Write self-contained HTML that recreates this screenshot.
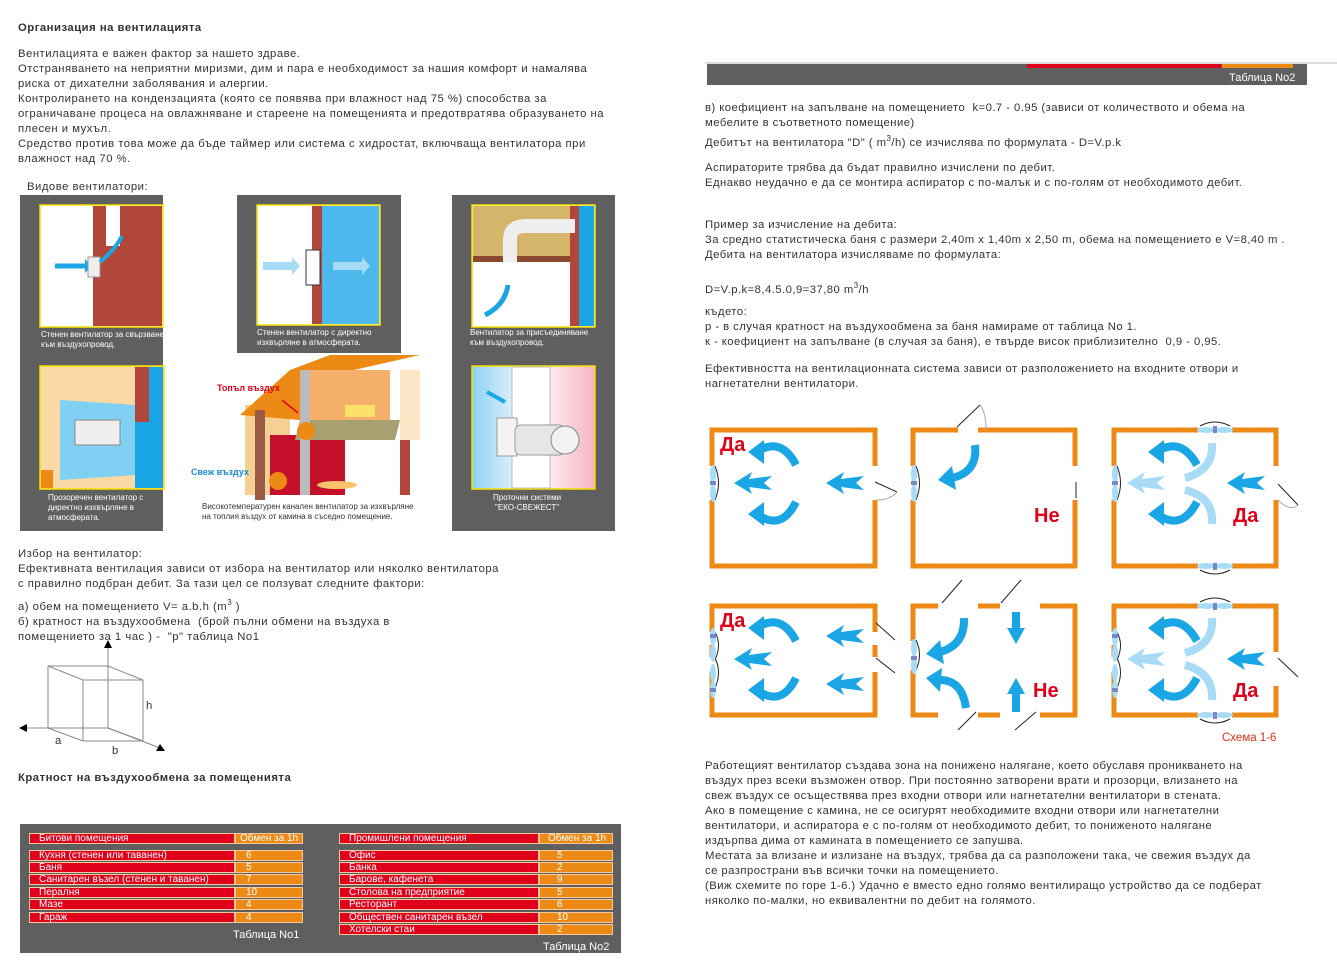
<!DOCTYPE html>
<html><head><meta charset="utf-8"><style>
body{margin:0;width:1337px;height:977px;background:#fff;position:relative;overflow:hidden;font-family:"Liberation Sans",Arial,sans-serif;color:#333;font-size:11.3px}
.t{position:absolute;white-space:nowrap;line-height:15px;letter-spacing:0.5px}
.b{font-weight:bold}
.c{position:absolute;color:#fff;font-size:8px;line-height:10px;white-space:nowrap}
.tb{position:absolute;font-size:9.5px;color:#fff;line-height:12px}
.r{position:absolute;height:11px;background:#e0001b;border:1px solid #f4c9a0;box-sizing:border-box;padding-left:9px;font-size:10px;line-height:10px;color:#fff}
.o{position:absolute;height:11px;background:#ec8a15;border:1px solid #f4c9a0;box-sizing:border-box;font-size:10px;line-height:10px;color:#fff;padding-left:10px}
.big{letter-spacing:0}
</style></head><body>
<svg width="1337" height="977" style="position:absolute;left:0;top:0">
<rect x="20" y="195" width="143" height="336" fill="#5f5f5f"/>
<rect x="237" y="195" width="164" height="158" fill="#5f5f5f"/>
<rect x="452" y="195" width="163" height="336" fill="#5f5f5f"/>
<rect x="40" y="205" width="123" height="122" fill="#fff" stroke="#f5e000" stroke-width="1.5"/>
<rect x="93" y="206" width="69" height="120" fill="#b0473a"/>
<rect x="106" y="206" width="14" height="40" fill="#fff"/>
<path d="M55 266 L85 266" stroke="#1aa6e4" stroke-width="5"/><polygon points="85,259 92,266 85,273" fill="#1aa6e4"/>
<rect x="88" y="257" width="12" height="20" fill="#eee" stroke="#999"/>
<path d="M100 262 Q115 250 122 236" stroke="#1aa6e4" stroke-width="4" fill="none"/>
<rect x="257" y="205" width="123" height="120" fill="#fff" stroke="#f5e000" stroke-width="1.5"/>
<rect x="322" y="206" width="57" height="118" fill="#4cb8ec"/>
<rect x="312" y="206" width="10" height="118" fill="#b0473a"/>
<rect x="306" y="250" width="14" height="35" fill="#fff" stroke="#333"/>
<polygon points="263,262 292,262 292,257 300,266 292,275 292,270 263,270" fill="#a8dcf6"/>
<polygon points="333,262 362,262 362,257 370,266 362,275 362,270 333,270" fill="#a8dcf6"/>
<rect x="472" y="205" width="123" height="122" fill="#fff" stroke="#f5e000" stroke-width="1.5"/>
<rect x="473" y="206" width="105" height="50" fill="#d4b56a"/>
<rect x="473" y="256" width="105" height="6" fill="#8a4a30"/>
<rect x="578" y="206" width="16" height="120" fill="#1aa6e4"/>
<rect x="570" y="206" width="9" height="120" fill="#b0473a"/>
<path d="M510 262 L510 240 Q510 226 525 226 L575 226" stroke="#eee" stroke-width="14" fill="none"/>
<path d="M485 315 Q505 305 508 285" stroke="#1aa6e4" stroke-width="5" fill="none"/>
<rect x="40" y="366" width="124" height="123" fill="#f9d9a4" stroke="#f5e000" stroke-width="1.5"/>
<rect x="135" y="367" width="28" height="121" fill="#1aa6e4"/>
<rect x="135" y="367" width="14" height="55" fill="#b0473a"/>
<polygon points="60,400 135,405 135,475 60,480" fill="#7fd0f2"/>
<rect x="75" y="420" width="45" height="25" fill="#eee" stroke="#888"/>
<rect x="41" y="470" width="12" height="18" fill="#ec8a15"/>
<defs><linearGradient id="g1" x1="0" x2="1"><stop offset="0" stop-color="#8fd0f3"/><stop offset="0.5" stop-color="#fff"/><stop offset="1" stop-color="#f5b3c3"/></linearGradient></defs>
<rect x="472" y="366" width="123" height="123" fill="url(#g1)" stroke="#f5e000" stroke-width="1.5"/>
<rect x="512" y="367" width="38" height="121" fill="#fff" stroke="#bbb"/>
<rect x="497" y="418" width="20" height="38" fill="#f3f3f3" stroke="#999"/>
<rect x="515" y="425" width="50" height="30" rx="6" fill="#e6e6e6" stroke="#999"/>
<circle cx="565" cy="440" r="14" fill="#f2f2f2" stroke="#888"/>
<path d="M487 392 L505 402" stroke="#1aa6e4" stroke-width="4"/>
<polygon points="245,405 290,405 290,495 245,495" fill="#f6cf92"/>
<polygon points="240,415 290,370 330,355 420,355 345,372 300,420" fill="#ec8a15"/>
<rect x="255" y="410" width="10" height="90" fill="#9a5a45"/>
<rect x="270" y="435" width="75" height="60" fill="#c4102a"/>
<rect x="310" y="370" width="80" height="50" fill="#f4b06a"/>
<polygon points="300,420 400,420 395,440 295,440" fill="#a8a070"/>
<rect x="345" y="405" width="30" height="12" fill="#fbe06a"/>
<rect x="300" y="370" width="10" height="125" fill="#bbb"/>
<rect x="400" y="370" width="20" height="70" fill="#fde6c6"/>
<rect x="400" y="440" width="10" height="55" fill="#b0473a"/>
<circle cx="306" cy="431" r="9" fill="#ec8a15"/>
<circle cx="278" cy="481" r="9" fill="#ec8a15"/>
<ellipse cx="337" cy="485" rx="20" ry="4" fill="#f9c36a"/>
<path d="M282 400 L298 413" stroke="#e0001b" stroke-width="1.5"/>
<g stroke="#888" stroke-width="1" fill="none">
<path d="M48 666 L108 666 L143 680 L83 680 Z M48 666 L48 728 L83 741 L143 741 L143 680 M83 680 L83 741 M48 728 L108 728 L143 741 M108 666 L108 728"/>
<path d="M108 728 L108 645 M108 728 L24 728 M108 728 L160 748"/>
</g>
<polygon points="108,640 104,648 112,648" fill="#000"/>
<polygon points="19,728 27,724 27,732" fill="#000"/>
<polygon points="165,751 156,751 160,744" fill="#000"/>
<rect x="20" y="824" width="601" height="129" fill="#5f5f5f"/>
<rect x="705" y="62" width="632" height="2" fill="#ddd"/>
<rect x="707" y="64" width="600" height="21" fill="#5f5f5f"/>
<rect x="1027" y="64" width="194" height="4" fill="#e0001b"/>
<rect x="1222" y="64" width="71" height="4" fill="#ec8a15"/>
<g stroke="#ec8a15" stroke-width="5" fill="none">
<path d="M712 466 L712 430 L875 430 L875 466 M875 500 L875 566 L712 566 L712 500"/>
<path d="M913 466 L913 430 L958 430 M978 430 L1075 430 L1075 466 M1075 500 L1075 566 L913 566 L913 500"/>
<path d="M1114 466 L1114 430 L1198 430 M1232 430 L1276 430 L1276 466 M1276 500 L1276 566 L1232 566 M1198 566 L1114 566 L1114 500"/>
<path d="M712 632 L712 606 L875 606 L875 632 M875 645 L875 657 M875 672 L875 715 L712 715 L712 672 M712 645 L712 657"/>
<path d="M913 641 L913 606 L938 606 M978 606 L1000 606 M1040 606 L1075 606 L1075 715 L1040 715 M1000 715 L978 715 M938 715 L913 715 L913 670"/>
<path d="M1114 632 L1114 606 L1198 606 M1232 606 L1276 606 L1276 652 M1276 686 L1276 715 L1232 715 M1198 715 L1114 715 L1114 672 M1114 645 L1114 657"/>
</g>
<g stroke="#222" stroke-width="1" fill="none">
<path d="M875 482 L897 492 M957 427 L980 405 M1076 482 L1076 498 M1278 484 L1298 505 M876 658 L895 673 M876 623 L895 640 M942 603 L962 580 M1001 603 L1021 580 M958 730 L976 712 M1015 730 L1036 712 M1278 658 L1298 677"/>
<path d="M715 466 Q722 483 715 500 M916 466 Q923 483 916 500 M1117 466 Q1124 483 1117 500 M715 632 Q722 645 715 660 M715 658 Q722 672 715 688 M916 640 Q923 655 916 670 M1117 632 Q1124 645 1117 660 M1117 658 Q1124 672 1117 688 M1200 426 Q1215 418 1230 426 M1200 570 Q1215 578 1230 570 M1200 602 Q1215 594 1230 602 M1200 719 Q1215 727 1230 719"/>
</g>
<g stroke="#aaa" stroke-width="1" fill="none">
<path d="M897 492 Q890 500 877 500 M980 405 Q986 412 986 430 M1298 505 Q1290 512 1278 500"/>
</g>
<g fill="#a8dcf6">
<ellipse cx="713" cy="474" rx="3" ry="9"/><ellipse cx="713" cy="493" rx="3" ry="9"/>
<ellipse cx="914" cy="474" rx="3" ry="9"/><ellipse cx="914" cy="493" rx="3" ry="9"/>
<ellipse cx="1115" cy="474" rx="3" ry="9"/><ellipse cx="1115" cy="493" rx="3" ry="9"/>
<ellipse cx="1206" cy="430" rx="9" ry="3"/><ellipse cx="1224" cy="430" rx="9" ry="3"/>
<ellipse cx="1206" cy="566" rx="9" ry="3"/><ellipse cx="1224" cy="566" rx="9" ry="3"/>
<ellipse cx="1206" cy="606" rx="9" ry="3"/><ellipse cx="1224" cy="606" rx="9" ry="3"/>
<ellipse cx="1206" cy="715" rx="9" ry="3"/><ellipse cx="1224" cy="715" rx="9" ry="3"/>
<ellipse cx="713" cy="637" rx="3" ry="9"/><ellipse cx="713" cy="653" rx="3" ry="9"/>
<ellipse cx="713" cy="673" rx="3" ry="9"/><ellipse cx="713" cy="689" rx="3" ry="9"/>
<ellipse cx="1115" cy="637" rx="3" ry="9"/><ellipse cx="1115" cy="653" rx="3" ry="9"/>
<ellipse cx="1115" cy="673" rx="3" ry="9"/><ellipse cx="1115" cy="689" rx="3" ry="9"/>
<ellipse cx="914" cy="648" rx="3" ry="9"/><ellipse cx="914" cy="665" rx="3" ry="9"/>
</g>
<g fill="#7a88c8">
<rect x="710" y="481" width="6" height="4"/><rect x="911" y="481" width="6" height="4"/><rect x="1112" y="481" width="6" height="4"/>
<rect x="1213" y="426" width="4" height="7"/><rect x="1213" y="563" width="4" height="7"/><rect x="1213" y="603" width="4" height="7"/><rect x="1213" y="712" width="4" height="7"/>
<rect x="710" y="634" width="6" height="4"/><rect x="710" y="688" width="6" height="4"/><rect x="1112" y="634" width="6" height="4"/><rect x="1112" y="688" width="6" height="4"/><rect x="911" y="656" width="6" height="4"/>
</g>
<defs>
<g id="la"><polygon points="0,0 18,-11 15,-4 38,-7 30,0 38,7 15,4 18,11"/></g>
</defs>
<g fill="#1aa6e4">
<use href="#la" x="734" y="483"/><use href="#la" x="826" y="483"/><use href="#la" x="1227" y="483"/>
<use href="#la" x="734" y="659"/><use href="#la" x="826" y="636"/><use href="#la" x="826" y="684"/><use href="#la" x="1227" y="659"/>
</g>
<g fill="#a8dcf6"><use href="#la" x="1127" y="483"/><use href="#la" x="1127" y="659"/></g>
<g stroke="#1aa6e4" stroke-width="8" fill="none">
<path d="M796 465 Q782 438 760 450"/><path d="M796 502 Q782 530 760 516"/>
<path d="M975 445 Q978 472 952 478"/>
<path d="M1197 465 Q1182 438 1160 450"/><path d="M1197 502 Q1182 530 1160 516"/>
<path d="M796 641 Q782 614 760 626"/><path d="M796 678 Q782 706 760 692"/>
<path d="M964 618 Q965 645 940 652"/><path d="M966 708 Q962 680 940 680"/>
<path d="M1016 612 L1016 632"/><path d="M1016 712 L1016 690"/>
<path d="M1197 641 Q1182 614 1160 626"/><path d="M1197 678 Q1182 706 1160 692"/>
</g>
<g fill="#1aa6e4">
<polygon points="748,452 764,440 764,464"/><polygon points="748,514 764,502 764,526"/>
<polygon points="938,480 952,466 956,490"/>
<polygon points="1148,452 1164,440 1164,464"/><polygon points="1148,514 1164,502 1164,526"/>
<polygon points="748,628 764,616 764,640"/><polygon points="748,690 764,678 764,702"/>
<polygon points="926,654 940,640 944,664"/><polygon points="926,678 942,668 940,692"/>
<polygon points="1007,628 1025,628 1016,644"/><polygon points="1007,694 1025,694 1016,678"/>
<polygon points="1148,628 1164,616 1164,640"/><polygon points="1148,690 1164,678 1164,702"/>
</g>
<g stroke="#a8dcf6" stroke-width="8" fill="none">
<path d="M1212 443 Q1214 470 1185 478"/><path d="M1212 524 Q1214 497 1185 490"/>
<path d="M1212 618 Q1214 645 1185 653"/><path d="M1212 700 Q1214 673 1185 665"/>
</g>
</svg>

<div class="t b" style="left:18px;top:21px">Организация на вентилацията</div>
<div class="t" style="left:18px;top:47px">Вентилацията е важен фактор за нашето здраве.<br>Отстраняването на неприятни миризми, дим и пара е необходимост за нашия комфорт и намалява<br>риска от дихателни заболявания и алергии.<br>Контролирането на кондензацията (която се появява при влажност над 75 %) способства за<br>ограничаване процеса на овлажняване и стареене на помещенията и предотвратява образуването на<br>плесен и мухъл.<br>Средство против това може да бъде таймер или система с хидростат, включваща вентилатора при<br>влажност над 70 %.</div>
<div class="t" style="left:27px;top:180px">Видове вентилатори:</div>

<div class="c" style="left:41px;top:330px">Стенен вентилатор за свързване<br>към въздухопровод.</div>
<div class="c" style="left:257px;top:328px">Стенен вентилатор с директно<br>изхвърляне в атмосферата.</div>
<div class="c" style="left:470px;top:328px">Вентилатор за присъединяване<br>към въздухопровод.</div>
<div class="c" style="left:48px;top:493px">Прозоречен вентилатор с<br>директно изхвърляне в<br>атмосферата.</div>
<div class="c" style="left:493px;top:493px;text-align:center">Проточни системи<br>"ЕКО-СВЕЖЕСТ"</div>
<div class="c" style="left:202px;top:502px;color:#333">Високотемпературен канален вентилатор за изхвърляне<br>на топлия въздух от камина в съседно помещение.</div>
<div class="t b big" style="left:217px;top:381px;color:#e0001b;font-size:9px">Топъл въздух</div>
<div class="t b big" style="left:191px;top:465px;color:#1a8ad4;font-size:9px">Свеж въздух</div>

<div class="t" style="left:18px;top:547px">Избор на вентилатор:<br>Ефективната вентилация зависи от избора на вентилатор или няколко вентилатора<br>с правилно подбран дебит. За тази цел се ползуват следните фактори:</div>
<div class="t" style="left:18px;top:595px">а) обем на помещението V= a.b.h (m<sup style="font-size:8px">3</sup> )<br>б) кратност на въздухообмена&nbsp; (брой пълни обмени на въздуха в<br>помещението за 1 час ) -&nbsp; "p" таблица No1</div>
<div class="t" style="left:146px;top:699px">h</div>
<div class="t" style="left:55px;top:734px">a</div>
<div class="t" style="left:112px;top:744px">b</div>
<div class="t b" style="left:18px;top:771px">Кратност на въздухообмена за помещенията</div>

<div class="r" style="left:29px;top:833px;width:206px">Битови помещения</div><div class="o" style="left:235px;top:833px;width:68px;padding-left:4px">Обмен за 1h</div>
<div class="r" style="left:29px;top:850px;width:206px">Кухня (стенен или таванен)</div><div class="o" style="left:235px;top:850px;width:68px">6</div>
<div class="r" style="left:29px;top:862px;width:206px">Баня</div><div class="o" style="left:235px;top:862px;width:68px">5</div>
<div class="r" style="left:29px;top:874px;width:206px">Санитарен възел (стенен и таванен)</div><div class="o" style="left:235px;top:874px;width:68px">7</div>
<div class="r" style="left:29px;top:887px;width:206px">Пералня</div><div class="o" style="left:235px;top:887px;width:68px">10</div>
<div class="r" style="left:29px;top:899px;width:206px">Мазе</div><div class="o" style="left:235px;top:899px;width:68px">4</div>
<div class="r" style="left:29px;top:912px;width:206px">Гараж</div><div class="o" style="left:235px;top:912px;width:68px">4</div>
<div class="tb" style="left:233px;top:929px;font-size:11px">Таблица No1</div>
<div class="r" style="left:339px;top:833px;width:200px">Промишлени помещения</div><div class="o" style="left:539px;top:833px;width:74px;padding-left:8px">Обмен за 1h</div>
<div class="r" style="left:339px;top:850px;width:200px">Офис</div><div class="o" style="left:539px;top:850px;width:74px;padding-left:17px">5</div>
<div class="r" style="left:339px;top:862px;width:200px">Банка</div><div class="o" style="left:539px;top:862px;width:74px;padding-left:17px">2</div>
<div class="r" style="left:339px;top:874px;width:200px">Барове, кафенета</div><div class="o" style="left:539px;top:874px;width:74px;padding-left:17px">9</div>
<div class="r" style="left:339px;top:887px;width:200px">Столова на предприятие</div><div class="o" style="left:539px;top:887px;width:74px;padding-left:17px">5</div>
<div class="r" style="left:339px;top:899px;width:200px">Ресторант</div><div class="o" style="left:539px;top:899px;width:74px;padding-left:17px">6</div>
<div class="r" style="left:339px;top:912px;width:200px">Обществен санитарен възел</div><div class="o" style="left:539px;top:912px;width:74px;padding-left:17px">10</div>
<div class="r" style="left:339px;top:924px;width:200px">Хотелски стаи</div><div class="o" style="left:539px;top:924px;width:74px;padding-left:17px">2</div>
<div class="tb" style="left:543px;top:941px;font-size:11px">Таблица No2</div>

<div class="tb" style="left:1229px;top:72px;font-size:11px">Таблица No2</div>

<div class="t" style="left:705px;top:101px;letter-spacing:0.45px">в) коефициент на запълване на помещението&nbsp; k=0.7 - 0.95 (зависи от количеството и обема на<br>мебелите в съответното помещение)<br>Дебитът на вентилатора "D" ( m<sup style="font-size:8px">3</sup>/h) се изчислява по формулата - D=V.p.k</div>
<div class="t" style="left:705px;top:161px;letter-spacing:0.45px">Аспираторите трябва да бъдат правилно изчислени по дебит.<br>Еднакво неудачно е да се монтира аспиратор с по-малък и с по-голям от необходимото дебит.</div>
<div class="t" style="left:705px;top:218px;letter-spacing:0.45px">Пример за изчисление на дебита:<br>За средно статистическа баня с размери 2,40m x 1,40m x 2,50 m, обема на помещението е V=8,40 m .<br>Дебита на вентилатора изчисляваме по формулата:</div>
<div class="t" style="left:705px;top:278px;letter-spacing:0.45px">D=V.p.k=8,4.5.0,9=37,80 m<sup style="font-size:8px">3</sup>/h</div>
<div class="t" style="left:705px;top:305px;letter-spacing:0.45px">където:<br>p - в случая кратност на въздухообмена за баня намираме от таблица No 1.<br>к - коефициент на запълване (в случая за баня), е твърде висок приблизително&nbsp; 0,9 - 0,95.</div>
<div class="t" style="left:705px;top:362px;letter-spacing:0.45px">Ефективността на вентилационната система зависи от разположението на входните отвори и<br>нагнетателни вентилатори.</div>

<div class="t b big" style="left:720px;top:433px;color:#e0001b;font-size:20px;line-height:24px">Да</div>
<div class="t b big" style="left:1034px;top:504px;color:#e0001b;font-size:20px;line-height:24px">Не</div>
<div class="t b big" style="left:1233px;top:504px;color:#e0001b;font-size:20px;line-height:24px">Да</div>
<div class="t b big" style="left:720px;top:609px;color:#e0001b;font-size:20px;line-height:24px">Да</div>
<div class="t b big" style="left:1033px;top:679px;color:#e0001b;font-size:20px;line-height:24px">Не</div>
<div class="t b big" style="left:1233px;top:679px;color:#e0001b;font-size:20px;line-height:24px">Да</div>
<div class="t big" style="left:1222px;top:731px;color:#e0301b;font-size:11.5px">Схема 1-6</div>

<div class="t" style="left:705px;top:759px;letter-spacing:0.45px">Работещият вентилатор създава зона на понижено налягане, което обуславя проникването на<br>въздух през всеки възможен отвор. При постоянно затворени врати и прозорци, влизането на<br>свеж въздух се осъществява през входни отвори или нагнетателни вентилатори в стената.<br>Ако в помещение с камина, не се осигурят необходимите входни отвори или нагнетателни<br>вентилатори, и аспиратора е с по-голям от необходимото дебит, то пониженото налягане<br>издърпва дима от камината в помещението се запушва.<br>Местата за влизане и излизане на въздух, трябва да са разположени така, че свежия въздух да<br>се разпространи във всички точки на помещението.<br>(Виж схемите по горе 1-6.) Удачно е вместо едно голямо вентилиращо устройство да се подберат<br>няколко по-малки, но еквивалентни по дебит на голямото.</div>
</body></html>
